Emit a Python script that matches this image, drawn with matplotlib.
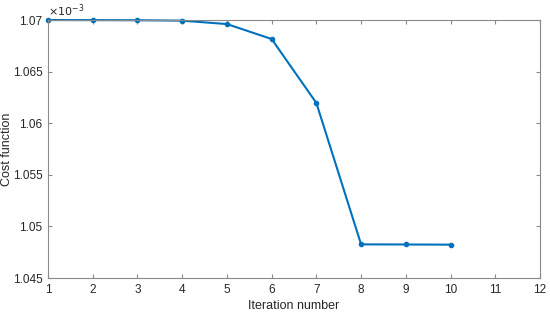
import matplotlib.pyplot as plt
from matplotlib.ticker import FuncFormatter

# Cost function per iteration (values in units of 1e-3)
iterations = [1, 2, 3, 4, 5, 6, 7, 8, 9, 10]
cost = [1.07, 1.06999, 1.06998, 1.06994, 1.06961, 1.06816, 1.06196, 1.04826, 1.04825, 1.04823]

plt.rcParams['font.family'] = ['Liberation Sans', 'DejaVu Sans']
axis_color = '#8a8a8a'
text_color = '#262626'

fig = plt.figure(figsize=(5.5, 3.13), dpi=100)
ax = fig.add_axes([0.0873, 0.1118, 0.8945, 0.8242])

ax.plot(iterations, cost, color='#0072BD', linewidth=1.5, marker='o', markersize=3,
        clip_on=False)

ax.set_xlim(1, 12)
ax.set_ylim(1.045, 1.07)
ax.set_xticks(range(1, 13))
ax.set_yticks([1.045, 1.05, 1.055, 1.06, 1.065, 1.07])
ax.yaxis.set_major_formatter(FuncFormatter(lambda v, p: '%g' % round(v, 4)))

for s in ax.spines.values():
    s.set_color(axis_color)
    s.set_linewidth(0.8)
ax.tick_params(direction='in', top=True, right=True, length=3, width=0.8,
               color=axis_color, labelcolor=text_color, labelsize=8.5, pad=4)

ax.set_xlabel('Iteration number', fontsize=9, color=text_color, labelpad=3)
ax.set_ylabel('Cost function', fontsize=9, color=text_color)
ax.yaxis.set_label_coords(-0.072, 0.5)
ax.text(0, 1.003, r'$\times10^{-3}$', transform=ax.transAxes, fontsize=8,
        color=text_color, ha='left', va='bottom')

fig.savefig('out.png', dpi=100)
